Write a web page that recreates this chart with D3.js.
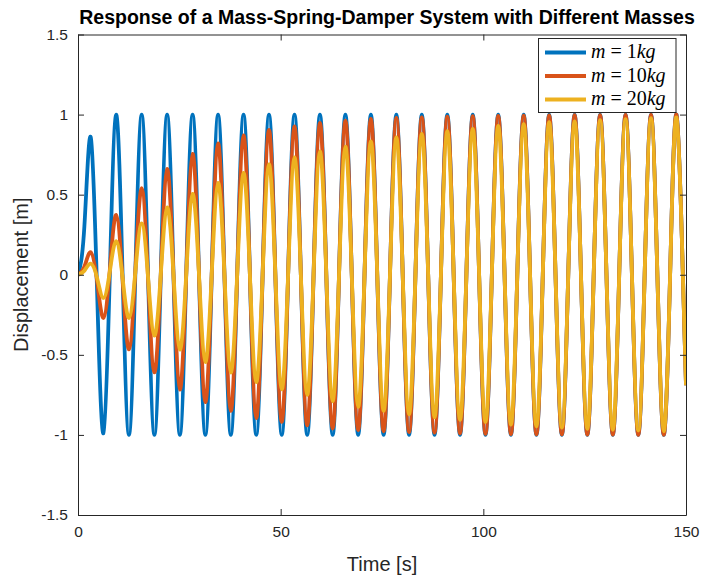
<!DOCTYPE html>
<html>
<head>
<meta charset="utf-8">
<script src="https://cdn.jsdelivr.net/npm/d3@7/dist/d3.min.js"></script>
<style>
  html, body { margin: 0; padding: 0; background: #fff; }
  svg { display: block; }
</style>
</head>
<body>
<svg id="chart" width="702" height="577"></svg>
<script>
// ---- Data ----
const time = [0, 1.57, 3.14, 4.71, 6.28, 7.85, 9.42, 11.0, 12.57, 14.14, 15.71, 17.28, 18.85, 20.42, 21.99, 23.56,
  25.13, 26.7, 28.27, 29.85, 31.42, 32.99, 34.56, 36.13, 37.7, 39.27, 40.84, 42.41, 43.98, 45.55, 47.12, 48.69,
  50.27, 51.84, 53.41, 54.98, 56.55, 58.12, 59.69, 61.26, 62.83, 64.4, 65.97, 67.54, 69.12, 70.69, 72.26, 73.83,
  75.4, 76.97, 78.54, 80.11, 81.68, 83.25, 84.82, 86.39, 87.96, 89.54, 91.11, 92.68, 94.25, 95.82, 97.39, 98.96,
  100.53, 102.1, 103.67, 105.24, 106.81, 108.38, 109.96, 111.53, 113.1, 114.67, 116.24, 117.81, 119.38, 120.95,
  122.52, 124.09, 125.66, 127.23, 128.81, 130.38, 131.95, 133.52, 135.09, 136.66, 138.23, 139.8, 141.37, 142.94,
  144.51, 146.08, 147.65, 149.23, 150];

const mass1 = [0,
  0.3, 0.86, -0.1, -0.99,
  0, 1, 0, -1,   0, 1, 0, -1,   0, 1, 0, -1,   0, 1, 0, -1,   0, 1, 0, -1,
  0, 1, 0, -1,   0, 1, 0, -1,   0, 1, 0, -1,   0, 1, 0, -1,   0, 1, 0, -1,
  0, 1, 0, -1,   0, 1, 0, -1,   0, 1, 0, -1,   0, 1, 0, -1,   0, 1, 0, -1,
  0, 1, 0, -1,   0, 1, 0, -1,   0, 1, 0, -1,   0, 1, 0, -1,   0, 1, 0, -1,
  0, 1, 0, -1,   0, 1, 0, -1,
  0, 1, 0, -0.69];

const mass10 = [0,
  0.05, 0.14, -0.04, -0.27,
  0.03, 0.374, -0.03, -0.466,
  0.02, 0.54, -0.02, -0.61,
  0, 0.66, 0, -0.717,
  0, 0.755, 0, -0.795,
  0, 0.82, 0, -0.85,
  0, 0.87, 0, -0.895,
  0, 0.905, 0, -0.919,
  0, 0.927, 0, -0.94,
  0, 0.948, 0, -0.96,
  0, 0.962, 0, -0.97,
  0, 0.973, 0, -0.977,
  0, 0.979, 0, -0.982,
  0, 0.983, 0, -0.986,
  0, 0.987, 0, -0.99,
  0, 0.99, 0, -0.993,
  0, 0.992, 0, -0.995,
  0, 0.993, 0, -0.996,
  0, 0.995, 0, -0.997,
  0, 0.996, 0, -0.998,
  0, 0.997, 0, -0.998,
  0, 0.998, 0, -0.999,
  0, 0.998, 0, -0.999,
  0, 0.999, 0, -0.69];

const mass20 = [0,
  0.025, 0.07, -0.02, -0.145,
  0.02, 0.21, -0.02, -0.27,
  0.015, 0.32, -0.015, -0.38,
  0, 0.42, 0, -0.467,
  0, 0.505, 0, -0.545,
  0, 0.574, 0, -0.61,
  0, 0.636, 0, -0.67,
  0, 0.69, 0, -0.715,
  0, 0.733, 0, -0.75,
  0, 0.77, 0, -0.79,
  0, 0.80, 0, -0.825,
  0, 0.833, 0, -0.85,
  0, 0.858, 0, -0.871,
  0, 0.879, 0, -0.89,
  0, 0.896, 0, -0.906,
  0, 0.91, 0, -0.92,
  0, 0.93, 0, -0.936,
  0, 0.94, 0, -0.946,
  0, 0.952, 0, -0.955,
  0, 0.958, 0, -0.962,
  0, 0.966, 0, -0.968,
  0, 0.972, 0, -0.973,
  0, 0.977, 0, -0.977,
  0, 0.981, 0, -0.69];

const seriesNames = ["1", "10", "20"];
const seriesColors = ["#0072BD", "#D95319", "#EDB120"];
const xTicks = [0, 50, 100, 150];
const yTicks = [-1.5, -1, -0.5, 0, 0.5, 1, 1.5];
const yTickLabels = ["-1.5", "-1", "-0.5", "0", "0.5", "1", "1.5"];

const titleText = "Response of a Mass-Spring-Damper System with Different Masses";
const xLabel = "Time [s]";
const yLabel = "Displacement [m]";

// ---- Layout ----
const svg = d3.select("#chart");
const L = 78, R = 686, T = 34.5, B = 515;
const axisColor = "#262626";
const font = "'Liberation Sans', Arial, Helvetica, sans-serif";

const x = d3.scaleLinear().domain([0, 150]).range([L, R]);
const y = d3.scaleLinear().domain([-1.5, 1.5]).range([B, T]);

svg.append("rect").attr("x", 0).attr("y", 0).attr("width", 702).attr("height", 577).attr("fill", "#fff");

svg.append("defs").append("clipPath").attr("id", "clip")
  .append("rect").attr("x", L).attr("y", T).attr("width", R - L).attr("height", B - T);

// ---- Lines ----
const allSeries = [mass1, mass10, mass20];
const line = d3.line()
  .x((d, i) => x(time[i]))
  .y(d => y(d))
  .curve(d3.curveNatural);

const lines = svg.append("g").attr("clip-path", "url(#clip)");
allSeries.forEach((vals, s) => {
  lines.append("path")
    .attr("d", line(vals))
    .attr("fill", "none")
    .attr("stroke", seriesColors[s])
    .attr("stroke-width", 3.8)
    .attr("stroke-linejoin", "round");
});

// ---- Axes ----
const tickLen = 6;
const xAxisB = d3.axisBottom(x).tickValues(xTicks).tickSizeInner(-tickLen).tickSizeOuter(0).tickPadding(11);
const xAxisT = d3.axisTop(x).tickValues(xTicks).tickSizeInner(-tickLen).tickSizeOuter(0).tickFormat("");
const yAxisL = d3.axisLeft(y).tickValues(yTicks).tickSizeInner(-tickLen).tickSizeOuter(0).tickPadding(10)
  .tickFormat((d, i) => yTickLabels[i]);
const yAxisR = d3.axisRight(y).tickValues(yTicks).tickSizeInner(-tickLen).tickSizeOuter(0).tickFormat("");

function style(g) {
  g.select(".domain").attr("stroke", axisColor).attr("stroke-width", 1);
  g.selectAll(".tick line").attr("stroke", axisColor).attr("stroke-width", 1);
  g.selectAll(".tick text").attr("fill", axisColor).style("font-family", font).style("font-size", "15.5px");
}
svg.append("g").attr("transform", `translate(0,${B})`).call(xAxisB).call(style);
svg.append("g").attr("transform", `translate(0,${T})`).call(xAxisT).call(style);
svg.append("g").attr("transform", `translate(${L},0)`).call(yAxisL).call(style);
svg.append("g").attr("transform", `translate(${R},0)`).call(yAxisR).call(style);

// ---- Titles ----
svg.append("text")
  .attr("x", 387).attr("y", 24)
  .attr("text-anchor", "middle")
  .style("font-family", font).style("font-size", "19.5px").style("font-weight", "bold")
  .attr("fill", "#000")
  .text(titleText);

svg.append("text")
  .attr("x", (L + R) / 2).attr("y", 571)
  .attr("text-anchor", "middle")
  .style("font-family", font).style("font-size", "20px")
  .attr("fill", axisColor)
  .text(xLabel);

svg.append("text")
  .attr("transform", `translate(28,${(T + B) / 2}) rotate(-90)`)
  .attr("text-anchor", "middle")
  .style("font-family", font).style("font-size", "20px")
  .attr("fill", axisColor)
  .text(yLabel);

// ---- Legend ----
const lg = svg.append("g");
lg.append("rect")
  .attr("x", 538.5).attr("y", 38.5).attr("width", 137.5).attr("height", 74)
  .attr("fill", "#fff").attr("stroke", axisColor).attr("stroke-width", 1);
seriesNames.forEach((name, i) => {
  const ry = 52.5 + i * 23.5;
  lg.append("line")
    .attr("x1", 545).attr("x2", 586).attr("y1", ry).attr("y2", ry)
    .attr("stroke", seriesColors[i]).attr("stroke-width", 3.8);
  const t = lg.append("text")
    .attr("x", 591).attr("y", ry + 5.5)
    .style("font-family", "'Liberation Serif', 'DejaVu Serif', serif").style("font-size", "20px")
    .attr("fill", "#000");
  t.append("tspan").style("font-style", "italic").text("m");
  t.append("tspan").attr("dx", 5).text("=");
  t.append("tspan").attr("dx", 5).text(name);
  t.append("tspan").style("font-style", "italic").text("kg");
});
</script>
</body>
</html>
